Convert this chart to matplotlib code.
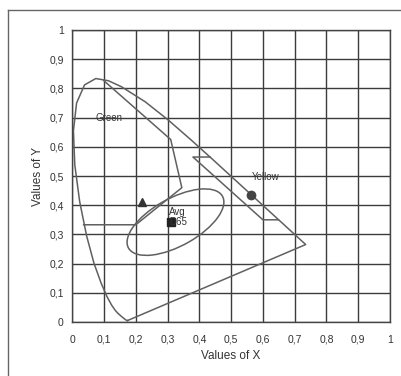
import numpy as np
import matplotlib
matplotlib.use("Agg")
from matplotlib import pyplot as plt
from matplotlib.patches import Ellipse
from matplotlib.lines import Line2D

plt.rcParams['font.family'] = ['Liberation Sans', 'DejaVu Sans']

# spectral locus (CIE 1931), 380 nm -> 700 nm
locus_x = [0.1741, 0.1733, 0.1714, 0.1644, 0.1566, 0.1440, 0.1355, 0.1241,
           0.1096, 0.0913, 0.0687, 0.0454, 0.0235, 0.0082, 0.0039, 0.0139,
           0.0389, 0.0743, 0.1142, 0.1547, 0.2296, 0.3016, 0.3731, 0.4441,
           0.5125, 0.5752, 0.6270, 0.6658, 0.6915, 0.7190, 0.7347]
locus_y = [0.0050, 0.0048, 0.0051, 0.0109, 0.0177, 0.0297, 0.0399, 0.0578,
           0.0868, 0.1327, 0.2007, 0.2950, 0.4127, 0.5384, 0.6548, 0.7502,
           0.8120, 0.8338, 0.8262, 0.8059, 0.7543, 0.6923, 0.6245, 0.5547,
           0.4866, 0.4242, 0.3725, 0.3340, 0.3083, 0.2809, 0.2653]

# inner boundary of the green region
green_x = [0.100, 0.310, 0.345, 0.200, 0.036]
green_y = [0.826, 0.625, 0.460, 0.333, 0.333]

# inner boundary of the yellow region
yellow_x = [0.434, 0.380, 0.600, 0.649]
yellow_y = [0.565, 0.565, 0.350, 0.350]

# white area around the average point
white_center = (0.325, 0.342)
white_w, white_h, white_angle = 0.345, 0.16, 32

tri_pt = (0.22, 0.41)
sq_pt = (0.31, 0.342)
circ_pt = (0.562, 0.436)

ticks = [0, 0.1, 0.2, 0.3, 0.4, 0.5, 0.6, 0.7, 0.8, 0.9, 1]
tick_labels = ["0", "0,1", "0,2", "0,3", "0,4", "0,5", "0,6", "0,7", "0,8", "0,9", "1"]

fig = plt.figure(figsize=(4.01, 3.76), dpi=100)
ax = fig.add_axes([0.18, 0.1436, 0.7926, 0.7766])

line_col = "#606060"
ax.plot(locus_x + [locus_x[0]], locus_y + [locus_y[0]], color=line_col, lw=1.1)
ax.plot(green_x, green_y, color=line_col, lw=1.1)
ax.plot(yellow_x, yellow_y, color=line_col, lw=1.1)
ax.add_patch(Ellipse(white_center, white_w, white_h, angle=white_angle,
                     fill=False, edgecolor=line_col, lw=1.1))

ax.plot(*tri_pt, marker="^", color="#333333", ms=6)
ax.plot(*sq_pt, marker="s", color="#222222", ms=5.5)
ax.plot(*circ_pt, marker="o", color="#444444", ms=6)

ax.text(0.115, 0.70, "Green", fontsize=7, color="#333333", ha="center", va="center")
ax.text(0.61, 0.495, "Yellow", fontsize=7, color="#333333", ha="center", va="center")
ax.text(0.305, 0.378, "Avg", fontsize=7, color="#333333", ha="left", va="center")
ax.text(0.305, 0.342, "D65", fontsize=7, color="#333333", ha="left", va="center")

ax.set_xlim(0, 1)
ax.set_ylim(0, 1)
ax.set_xticks(ticks)
ax.set_xticklabels(tick_labels)
ax.set_yticks(ticks)
ax.set_yticklabels(tick_labels)
ax.tick_params(length=0, labelsize=7.5, colors="#333333")
ax.tick_params(axis="x", pad=9)
ax.tick_params(axis="y", pad=6)
ax.grid(True, color="#3c3c3c", lw=1)
for s in ax.spines.values():
    s.set_color("#444444")
    s.set_linewidth(1)
ax.set_axisbelow(True)

ax.set_xlabel("Values of X", fontsize=8.5, color="#333333", labelpad=4)
ax.set_ylabel("Values of Y", fontsize=8.5, color="#333333", labelpad=4)

# outer frame (top and left edges visible)
fig.add_artist(Line2D([8 / 401, 1], [1 - 10 / 376, 1 - 10 / 376],
                      transform=fig.transFigure, color="#666666", lw=1))
fig.add_artist(Line2D([8 / 401, 8 / 401], [0, 1 - 10 / 376],
                      transform=fig.transFigure, color="#666666", lw=1))

fig.savefig("out.png", dpi=100)
